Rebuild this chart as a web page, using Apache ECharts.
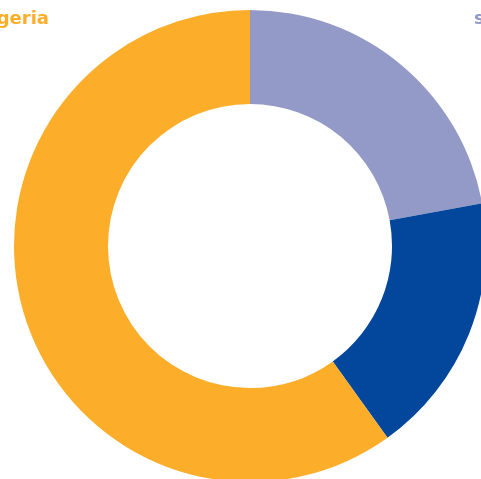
<!DOCTYPE html>
<html>
<head>
<meta charset="utf-8">
<script src="https://cdn.jsdelivr.net/npm/echarts@6/dist/echarts.min.js"></script>
<style>
html,body{margin:0;padding:0;background:#fff;}
#c{width:481px;height:479px;}
</style>
</head>
<body>
<div id="c"></div>
<script>
var categories = ['senegal', 'ghana', 'Nigeria'];
var values = [22.1, 18.0, 59.9];
var colors = ['#939AC8', '#02479B', '#FCAE2A'];

var chart = echarts.init(document.getElementById('c'), null, {renderer: 'canvas'});
chart.setOption({
  animation: false,
  graphic: [
    {type: 'text', right: 432, top: 10, style: {text: categories[2], fill: colors[2], font: 'bold 18px "DejaVu Sans"', textAlign: 'right'}},
    {type: 'text', left: 474, top: 10, style: {text: categories[0], fill: colors[0], font: 'bold 18px "DejaVu Sans"'}}
  ],
  series: [{
    type: 'pie',
    center: [250, 246],
    radius: [142, 236],
    startAngle: 90,
    clockwise: true,
    label: {show: false},
    labelLine: {show: false},
    emphasis: {disabled: true},
    data: categories.map(function (n, i) {
      return {name: n, value: values[i], itemStyle: {color: colors[i]}};
    })
  }]
});
</script>
</body>
</html>
